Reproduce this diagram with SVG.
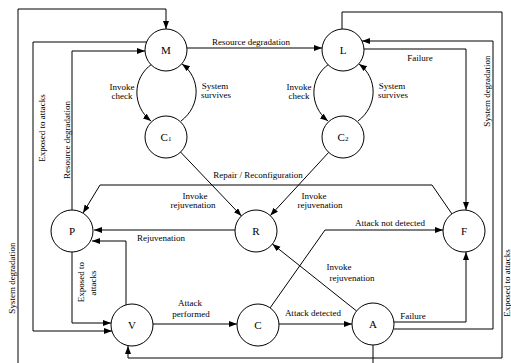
<svg xmlns="http://www.w3.org/2000/svg" width="511" height="363" viewBox="0 0 511 363">
<style>
  .n circle { fill: #fff; stroke: #000; stroke-width: 1; }
  .n text { font-family: "Liberation Serif", serif; font-size: 11px; text-anchor: middle; fill: #000; }
  .c path { fill: none; stroke: #000; stroke-width: 1; }
  .lb { font-family: "Liberation Serif", serif; font-size: 9px; fill: #000; text-anchor: middle; }
</style>
<defs>
  <marker id="ah" markerUnits="userSpaceOnUse" markerWidth="9" markerHeight="7" refX="8" refY="3" orient="auto">
    <path d="M0,0 L8,3 L0,6 Z" fill="#000"/>
  </marker>
</defs>
<rect width="511" height="363" fill="#fff"/>
<g id="connectors" class="c">
  <path d="M373,345 V370 H18 V9 H166 V29" marker-end="url(#ah)"/>
  <path d="M342,29 V12 H502 V358 H128 V346" marker-end="url(#ah)"/>
  <path d="M147,42 H33 V331 H112" marker-end="url(#ah)"/>
  <path d="M72,210 V51 H145" marker-end="url(#ah)"/>
  <path d="M187,48 H322" marker-end="url(#ah)"/>
  <path d="M363,49 H466 V210" marker-end="url(#ah)"/>
  <path d="M394,329 H493 V41 H362" marker-end="url(#ah)"/>
  <path d="M394,322 H466 V252" marker-end="url(#ah)"/>
  <path d="M152,64 C132,78 132,106 151,121" marker-end="url(#ah)"/>
  <path d="M181,121 C201,106 201,78 182,64" marker-end="url(#ah)"/>
  <path d="M329,64 C309,78 309,106 328,121" marker-end="url(#ah)"/>
  <path d="M358,121 C378,106 378,78 359,64" marker-end="url(#ah)"/>
  <path d="M180.5,152 L241.5,216" marker-end="url(#ah)"/>
  <path d="M328.7,152.4 L270.3,215.6" marker-end="url(#ah)"/>
  <path d="M452,214 L432,185 H100 L83,213" marker-end="url(#ah)"/>
  <path d="M235,230 H94" marker-end="url(#ah)"/>
  <path d="M126,305 V241 H92" marker-end="url(#ah)"/>
  <path d="M72,252 V323 H111" marker-end="url(#ah)"/>
  <path d="M153,324 H237" marker-end="url(#ah)"/>
  <path d="M279,324 H352" marker-end="url(#ah)"/>
  <path d="M270,308 L325,230 H443" marker-end="url(#ah)"/>
  <path d="M356.6,311 L272.4,244" marker-end="url(#ah)"/>
</g>
<g id="labels">
  <text class="lb" x="251" y="45">Resource degradation</text>
  <text class="lb" x="420" y="61">Failure</text>
  <text class="lb" x="122" y="90">Invoke</text>
  <text class="lb" x="122" y="99">check</text>
  <text class="lb" x="215" y="89">System</text>
  <text class="lb" x="216" y="98">survives</text>
  <text class="lb" x="299" y="90">Invoke</text>
  <text class="lb" x="299" y="99">check</text>
  <text class="lb" x="392" y="89">System</text>
  <text class="lb" x="393" y="98">survives</text>
  <text class="lb" x="258" y="178">Repair / Reconfiguration</text>
  <text class="lb" x="195" y="199">Invoke</text>
  <text class="lb" x="193" y="208">rejuvenation</text>
  <text class="lb" x="314" y="199">Invoke</text>
  <text class="lb" x="320" y="208">rejuvenation</text>
  <text class="lb" x="161" y="241">Rejuvenation</text>
  <text class="lb" x="390" y="226">Attack  not detected</text>
  <text class="lb" x="339" y="270">Invoke</text>
  <text class="lb" x="352" y="281">rejuvenation</text>
  <text class="lb" x="313" y="316">Attack  detected</text>
  <text class="lb" x="413" y="319">Failure</text>
  <text class="lb" x="190" y="306">Attack</text>
  <text class="lb" x="191" y="317">performed</text>
  <text class="lb" transform="translate(45,128) rotate(-90)">Exposed to attacks</text>
  <text class="lb" transform="translate(70,140) rotate(-90)">Resource degradation</text>
  <text class="lb" transform="translate(15,278) rotate(-90)">System degradation</text>
  <text class="lb" transform="translate(490,91) rotate(-90)">System degradation</text>
  <text class="lb" transform="translate(84,282) rotate(-90)">Exposed to</text>
  <text class="lb" transform="translate(96,283) rotate(-90)">attacks</text>
  <text class="lb" transform="translate(510,283) rotate(-90)">Exposed to attacks</text>
</g>
<g id="node-M" class="n"><circle cx="166" cy="50" r="21"/><text x="166" y="54">M</text></g>
<g id="node-L" class="n"><circle cx="343" cy="50" r="21"/><text x="343" y="54">L</text></g>
<g id="node-C1" class="n"><circle cx="166" cy="137" r="21"/><text x="166" y="141">C<tspan font-size="7">1</tspan></text></g>
<g id="node-C2" class="n"><circle cx="343" cy="137" r="21"/><text x="343" y="141">C<tspan font-size="7">2</tspan></text></g>
<g id="node-P" class="n"><circle cx="72" cy="231" r="21"/><text x="72" y="235">P</text></g>
<g id="node-R" class="n"><circle cx="256" cy="231" r="21"/><text x="256" y="235">R</text></g>
<g id="node-F" class="n"><circle cx="464" cy="231" r="21"/><text x="464" y="235">F</text></g>
<g id="node-V" class="n"><circle cx="132" cy="325" r="21"/><text x="132" y="329">V</text></g>
<g id="node-C" class="n"><circle cx="258" cy="325" r="21"/><text x="258" y="329">C</text></g>
<g id="node-A" class="n"><circle cx="373" cy="324" r="21"/><text x="373" y="328">A</text></g>
</svg>
